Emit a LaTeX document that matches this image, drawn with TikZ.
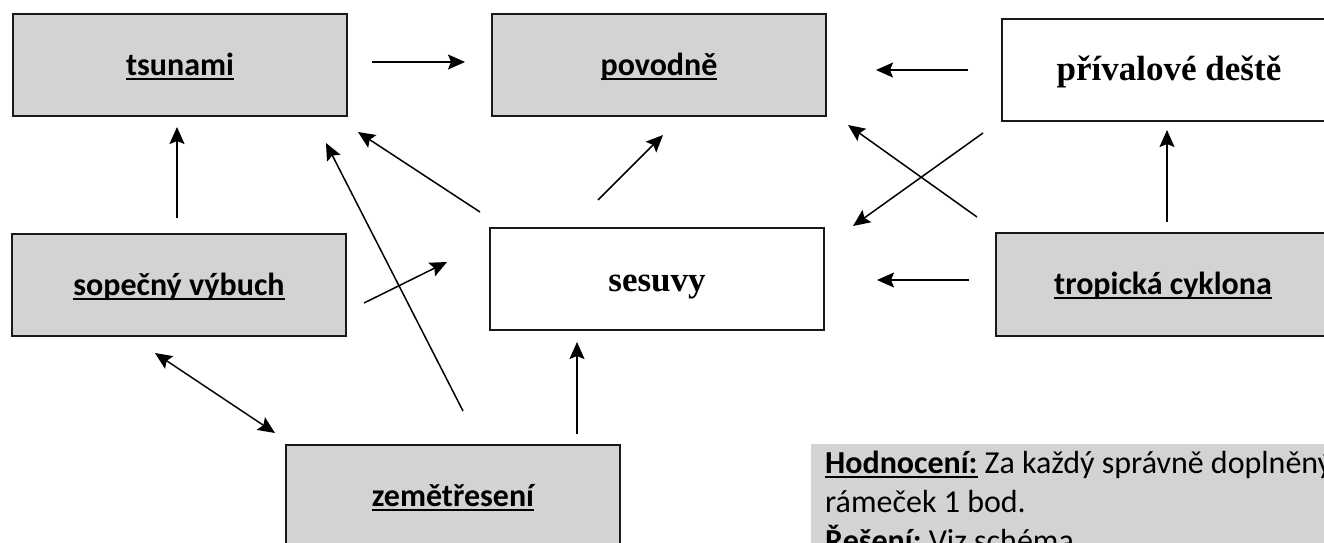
\documentclass[tikz,border=0pt]{standalone}
\usepackage{fontspec}
\setmainfont{Carlito}
\newfontfamily\serifb{Liberation Serif}
\usetikzlibrary{arrows.meta}
\definecolor{boxgray}{RGB}{209,211,212}
\definecolor{edgecol}{RGB}{25,25,25}
\newcommand\ulx[1]{\setbox0\hbox{#1}\rlap{\copy0}\rule[-4.5pt]{\wd0}{1.8pt}}
\begin{document}
\begin{tikzpicture}[x=1pt,y=-1pt,
  box/.style={draw=edgecol, line width=2pt, minimum width=334pt, minimum height=102pt,
    inner sep=0pt, text height=20pt, text depth=0pt, anchor=north west,
    font=\fontsize{32}{38}\selectfont\bfseries},
  graybox/.style={box, fill=boxgray},
  serifbox/.style={box, fill=white, font=\fontsize{35}{40}\selectfont\serifb\bfseries},
  arr/.style={-{Stealth[length=17pt,width=15pt,inset=3pt]}, line width=1.5pt},
  dblarr/.style={{Stealth[length=17pt,width=15pt,inset=3pt]}-{Stealth[length=17pt,width=15pt,inset=3pt]}, line width=1.5pt},
  note/.style={anchor=base west, inner sep=0pt, font=\fontsize{32}{39}\selectfont}]
\useasboundingbox (0,0) rectangle (1324,542);

% boxes
\node[graybox] (tsunami) at (12,13) {\ulx{tsunami}};
\node[graybox] (povodne) at (491,13) {\ulx{povodně}};
\node[serifbox] (privalove) at (1001,18) {přívalové deště};
\node[graybox] (sopecny) at (11,233) {\ulx{sopečný výbuch}};
\node[serifbox, text height=24pt] (sesuvy) at (489,227) {sesuvy};
\node[graybox, minimum height=103pt] (tropicka) at (995,232) {\ulx{tropická cyklona}};
\node[graybox] (zemetreseni) at (285,444) {\ulx{zemětřesení}};

% evaluation note
\node[fill=boxgray, anchor=north west, minimum width=530pt, minimum height=120pt, inner sep=0pt] (hodbox) at (811,444) {};
\node[note] (hod1) at (825,473) {\textbf{\ulx{Hodnocení:}} Za každý správně doplněný};
\node[note] (hod2) at (825,512) {rámeček 1 bod.};
\node[note] (hod3) at (825,551) {\textbf{\ulx{Řešení:}} Viz schéma};

% arrow end points
\coordinate (a1s) at (372,62);   \coordinate (a1e) at (465,62);
\coordinate (a2s) at (968,70);   \coordinate (a2e) at (876,70);
\coordinate (a3s) at (177,218);  \coordinate (a3e) at (177,127);
\coordinate (a4s) at (480,212);  \coordinate (a4e) at (358,132);
\coordinate (a5s) at (463,411);  \coordinate (a5e) at (326,143);
\coordinate (a6s) at (598,200);  \coordinate (a6e) at (663,135);
\coordinate (a7s) at (977,217);  \coordinate (a7e) at (848,125);
\coordinate (a8s) at (983,133);  \coordinate (a8e) at (853,226);
\coordinate (a9s) at (969,280);  \coordinate (a9e) at (877,280);
\coordinate (a10s) at (1167,222); \coordinate (a10e) at (1167,130);
\coordinate (a11s) at (364,303); \coordinate (a11e) at (447,262);
\coordinate (a12s) at (577,434); \coordinate (a12e) at (577,342);
\coordinate (a13s) at (155,353); \coordinate (a13e) at (275,433);

% arrows
\draw[arr] (a1s) -- (a1e);
\draw[arr] (a2s) -- (a2e);
\draw[arr] (a3s) -- (a3e);
\draw[arr] (a4s) -- (a4e);
\draw[arr] (a5s) -- (a5e);
\draw[arr] (a6s) -- (a6e);
\draw[arr] (a7s) -- (a7e);
\draw[arr] (a8s) -- (a8e);
\draw[arr] (a9s) -- (a9e);
\draw[arr] (a10s) -- (a10e);
\draw[arr] (a11s) -- (a11e);
\draw[arr] (a12s) -- (a12e);
\draw[dblarr] (a13s) -- (a13e);
\end{tikzpicture}
\end{document}
